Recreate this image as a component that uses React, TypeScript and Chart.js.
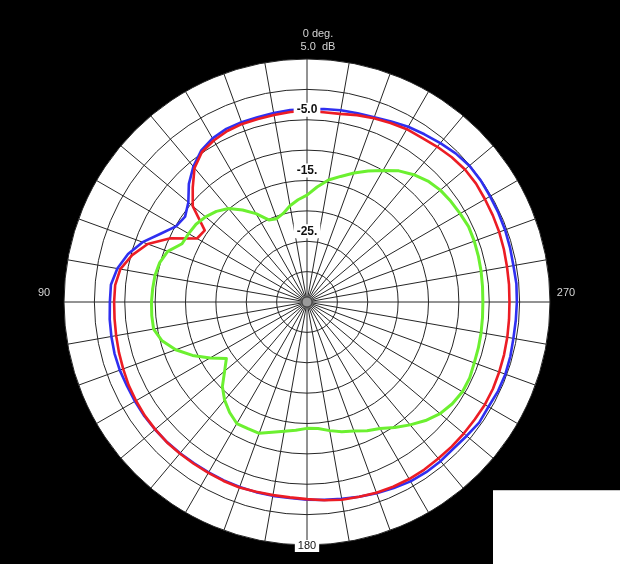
import React, { useEffect, useRef } from "react";
import { Chart, registerables } from "chart.js";

Chart.register(...registerables);

// Angles in degrees, counter-clockwise from 0° at the top (90 on the left, 270 on the right)
const angles = [
  0, 5, 10, 15, 20, 25, 30, 35, 40, 45, 50, 55,
  60, 65, 70, 75, 80, 85, 90, 95, 100, 105, 110, 115,
  120, 125, 130, 135, 140, 145, 150, 155, 160, 165, 170, 175,
  180, 185, 190, 195, 200, 205, 210, 215, 220, 225, 230, 235,
  240, 245, 250, 255, 260, 265, 270, 275, 280, 285, 290, 295,
  300, 305, 310, 315, 320, 325, 330, 335, 340, 345, 350, 355,
];

// Levels in dB at each angle
const blueDb = [
  -3.3, -3.3, -3.4, -3.5, -3.5, -3.55, -3.9, -4.6, -5.9, -7.5, -9.5, -10.5,
  -10.1, -8.4, -6.2, -4.5, -3.3, -2.6, -2.55, -2.4, -2.3, -2.2, -2.2, -2.3,
  -2.3, -2.3, -2.35, -2.4, -2.5, -2.6, -2.6, -2.6, -2.6, -2.6, -2.6, -2.6,
  -2.45, -2.3, -2.1, -1.8, -1.5, -1.2, -0.9, -0.8, -0.8, -0.9, -0.7, -0.4,
  -0.5, -0.3, -0.25, -0.35, -0.5, -0.5, -0.45, -0.4, -0.5, -0.4, -0.3, -0.25,
  -0.2, -0.1, -0.1, -0.4, -0.85, -1.3, -1.7, -2.2, -2.65, -2.85, -2.95, -3.1,
];

const redDb = [
  -3.5, -3.6, -3.75, -3.8, -3.8, -3.95, -4.3, -4.85, -6.2, -8.4, -10.45, -14.45,
  -14.1, -10.2, -7.1, -5.2, -3.8, -3.3, -3.25, -3.2, -3.1, -2.95, -2.8, -2.6,
  -2.5, -2.4, -2.38, -2.36, -2.43, -2.5, -2.54, -2.5, -2.5, -2.65, -2.72, -2.72,
  -2.55, -2.25, -1.95, -1.8, -1.6, -1.45, -1.35, -1.32, -1.36, -1.33, -1.32, -1.3,
  -1.2, -1.22, -1.33, -1.42, -1.52, -1.62, -1.67, -1.62, -1.57, -1.45, -1.33, -1.25,
  -1.17, -1.03, -1.05, -1.3, -1.65, -2.0, -2.15, -2.48, -2.8, -3.15, -3.55, -3.64,
];

const greenDb = [
  -17.4, -18.1, -18.9, -19.9, -20.4, -20.1, -18.2, -16.5, -14.9, -13.9, -13.2, -12.7,
  -12.5, -12.3, -10.6, -9.9, -9.6, -9.5, -9.4, -9.35, -9.36, -10.3, -12.0, -14.2,
  -16.6, -18.8, -17.3, -15.3, -13.9, -12.8, -11.9, -12.0, -12.0, -12.8, -13.4, -13.8,
  -14.2, -14.1, -13.5, -12.9, -12.4, -11.6, -10.95, -9.8, -8.6, -7.4, -6.4, -5.8,
  -5.45, -5.45, -5.7, -5.8, -5.9, -6.0, -6.05, -6.0, -5.9, -5.8, -5.7, -5.65,
  -5.9, -6.1, -6.35, -6.85, -7.65, -8.65, -10.0, -11.2, -12.4, -13.6, -14.6, -16.0,
];

// Radial scale and its labels
const scaleMin = -35;
const scaleMax = 5;
const scaleStep = 5;
const ringLabelValues = [-5, -15, -25];
const ringLabelTexts = ["-5.0", "-15.", "-25."];
const topLabels = ["0 deg.", "5.0  dB"];
const sideLabels = ["90", "180", "270"];

const BLUE = "#2f2ff0";
const RED = "#ec1c24";
const GREEN = "#6cf030";
const GRID = "#262626";

const overlayPlugin = {
  id: "overlayPlugin",
  beforeDraw(chart: any) {
    const s = chart.scales.r;
    const ctx = chart.ctx;
    ctx.save();
    ctx.fillStyle = "#000";
    ctx.fillRect(0, 0, chart.width, chart.height);
    ctx.beginPath();
    ctx.arc(s.xCenter, s.yCenter, s.drawingArea, 0, Math.PI * 2);
    ctx.fillStyle = "#fff";
    ctx.fill();
    ctx.restore();
  },
  afterDatasetsDraw(chart: any) {
    const s = chart.scales.r;
    const ctx = chart.ctx;
    const cx = s.xCenter;
    const cy = s.yCenter;
    ctx.save();
    // center hub
    ctx.beginPath();
    ctx.arc(cx, cy, 5, 0, Math.PI * 2);
    ctx.fillStyle = "#9a9a9a";
    ctx.fill();
    ctx.lineWidth = 1;
    ctx.strokeStyle = "#444";
    ctx.stroke();

    // ring labels
    ctx.font = 'bold 12px "Liberation Sans", Arial, sans-serif';
    ctx.textAlign = "center";
    ctx.textBaseline = "middle";
    ringLabelValues.forEach((v, i) => {
      const d = s.getDistanceFromCenterForValue(v);
      const y = cy - d - 10;
      const t = ringLabelTexts[i];
      const w = ctx.measureText(t).width;
      ctx.fillStyle = "#fff";
      ctx.fillRect(cx - w / 2 - 3, y - 7, w + 6, 14);
      ctx.fillStyle = "#111";
      ctx.fillText(t, cx, y);
    });

    // direction labels
    ctx.font = '11px "Liberation Sans", Arial, sans-serif';
    ctx.fillStyle = "#d4d4d4";
    ctx.fillText(topLabels[0], cx + 11, cy - 268);
    ctx.fillText(topLabels[1], cx + 11, cy - 255);
    ctx.fillText(sideLabels[0], cx - 263, cy - 9);
    ctx.fillText(sideLabels[2], cx + 259, cy - 9);
    const w180 = ctx.measureText(sideLabels[1]).width;
    ctx.fillStyle = "#fff";
    ctx.fillRect(cx - w180 / 2 - 3, cy + 238, w180 + 6, 12);
    ctx.fillStyle = "#111";
    ctx.fillText(sideLabels[1], cx, cy + 244);
    ctx.restore();
  },
};

export default function App() {
  const ref = useRef<HTMLCanvasElement>(null);
  useEffect(() => {
    document.body.style.margin = "0";
    document.body.style.background = "#000";
    const canvas = ref.current!;
    const n = angles.length;
    // radar goes clockwise, the pattern's angles go counter-clockwise
    const order = angles.map((_, i) => (n - i) % n);
    const labels = order.map((k) => String(angles[k]));
    const pick = (arr: number[]) => order.map((k) => arr[k]);
    const isSpoke = (idx: number) => angles[order[idx]] % 10 === 0;

    const chart = new Chart(canvas, {
      type: "radar",
      data: {
        labels,
        datasets: [
          { label: "green", data: pick(greenDb), borderColor: GREEN, borderWidth: 3, pointRadius: 0, fill: false },
          { label: "red", data: pick(redDb), borderColor: RED, borderWidth: 2.6, pointRadius: 0, fill: false },
          { label: "blue", data: pick(blueDb), borderColor: BLUE, borderWidth: 2.6, pointRadius: 0, fill: false },
        ],
      },
      options: {
        responsive: false,
        animation: false,
        layout: { padding: { left: 64, right: 70, top: 59, bottom: 19 } },
        elements: { line: { tension: 0, borderJoinStyle: "round" } },
        plugins: { legend: { display: false }, tooltip: { enabled: false } },
        scales: {
          r: {
            min: scaleMin,
            max: scaleMax,
            beginAtZero: false,
            ticks: { display: false, stepSize: scaleStep },
            grid: { circular: true, color: GRID, lineWidth: 1 },
            angleLines: {
              display: true,
              color: (c: any) => (isSpoke(c.index) ? GRID : "rgba(0,0,0,0)"),
              lineWidth: (c: any) => (isSpoke(c.index) ? 1 : 0),
            },
            pointLabels: { display: false },
          },
        },
      } as any,
      plugins: [overlayPlugin],
    });
    return () => chart.destroy();
  }, []);

  return (
    <div style={{ position: "fixed", left: 0, top: 0, width: 620, height: 564, background: "#000" }}>
      <canvas ref={ref} width={620} height={564} style={{ display: "block" }} />
      <div
        style={{
          position: "absolute",
          left: 493,
          top: 490,
          width: 127,
          height: 74,
          background: "#fff",
          borderTop: "1px solid #c8c8c8",
          boxSizing: "border-box",
        }}
      />
    </div>
  );
}
